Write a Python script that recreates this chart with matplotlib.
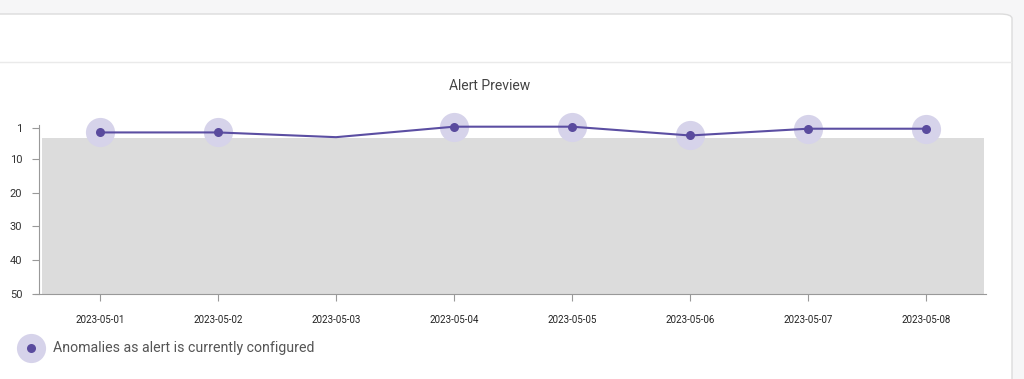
import matplotlib
matplotlib.use("Agg")
import matplotlib.pyplot as plt
from matplotlib.patches import FancyBboxPatch
from matplotlib.lines import Line2D

plt.rcParams['font.family'] = ['Roboto', 'DejaVu Sans']

dates = ["2023-05-01", "2023-05-02", "2023-05-03", "2023-05-04",
         "2023-05-05", "2023-05-06", "2023-05-07", "2023-05-08"]
values = [2.2, 2.2, 3.6, 0.5, 0.5, 3.1, 1.1, 1.1]
is_anomaly = [True, True, False, True, True, True, True, True]
threshold = 3.9
y_ticks = [1, 10, 20, 30, 40, 50]
title = "Alert Preview"
legend_label = "Anomalies as alert is currently configured"

W, H = 1024, 379
fig = plt.figure(figsize=(W / 100, H / 100), dpi=100)
fig.patch.set_facecolor("#f6f6f7")

def px(x, y):
    return x / W, 1 - y / H

# card
card = FancyBboxPatch((-20 / W, -0.1), (1012 + 20) / W, (H - 14) / H + 0.1,
                      boxstyle="round,pad=0,rounding_size=0.012",
                      transform=fig.transFigure, facecolor="white",
                      edgecolor="#dcdcdc", linewidth=1.0, zorder=-2)
fig.patches.append(card)
fig.add_artist(Line2D([0, 1011 / W], [1 - 61.5 / H] * 2, transform=fig.transFigure,
                      color="#eaeaea", linewidth=1.0, zorder=-1))

# axes
left, right, top, bottom = 39, 986, 125, 294
ax = fig.add_axes([left / W, 1 - bottom / H, (right - left) / W, (bottom - top) / H])
ax.set_zorder(1)
ax.set_facecolor("none")
n = len(dates)
xs = list(range(n))
step = 118.0
x0 = (left - 100) / step
x1 = (right - 100) / step
ax.set_xlim(x0, x1)
ax.set_ylim(50, 0)

# threshold band
ax.fill_between([(42 - 100) / step, (984 - 100) / step], threshold, 50,
                color="#dcdcdc", linewidth=0, zorder=1)

# line
ax.plot(xs, values, color="#5b4ea2", linewidth=1.5, zorder=3, clip_on=False)
anom_x = [x for x, a in zip(xs, is_anomaly) if a]
anom_y = [v for v, a in zip(values, is_anomaly) if a]
ax.plot(anom_x, anom_y, linestyle="none", marker="o", markersize=21,
        markerfacecolor="#d6d3ea", markeredgecolor="none", zorder=2, clip_on=False)
ax.plot(anom_x, anom_y, linestyle="none", marker="o", markersize=6.5,
        markerfacecolor="#5a4b9e", markeredgecolor="none", zorder=4, clip_on=False)

ax.set_xticks(xs)
ax.set_xticklabels(dates, fontsize=7, color="#222222")
ax.set_yticks(y_ticks)
ax.set_yticklabels([str(t) for t in y_ticks], fontsize=8, color="#333333")
ax.tick_params(axis="x", length=5, color="#999999", pad=10)
ax.tick_params(axis="y", length=5, color="#999999", pad=7)
for s in ["top", "right"]:
    ax.spines[s].set_visible(False)
ax.spines["left"].set_color("#999999")
ax.spines["bottom"].set_color("#999999")
ax.spines["bottom"].set_bounds((35 - 100) / step, x1)

fig.text(490 / W, 1 - 86 / H, title, ha="center", va="center",
         fontsize=10, color="#444444")

# legend
lx, ly = px(31, 348)
fig.add_artist(Line2D([lx], [ly], transform=fig.transFigure, marker="o",
                      markersize=21, markerfacecolor="#d6d3ea",
                      markeredgecolor="none", linestyle="none"))
fig.add_artist(Line2D([lx], [ly], transform=fig.transFigure, marker="o",
                      markersize=6.5, markerfacecolor="#5a4b9e",
                      markeredgecolor="none", linestyle="none"))
tx, ty = px(53, 348)
fig.text(tx, ty, legend_label, ha="left", va="center", fontsize=10.2, color="#555555")

fig.savefig("out.png", dpi=100, facecolor=fig.get_facecolor())
